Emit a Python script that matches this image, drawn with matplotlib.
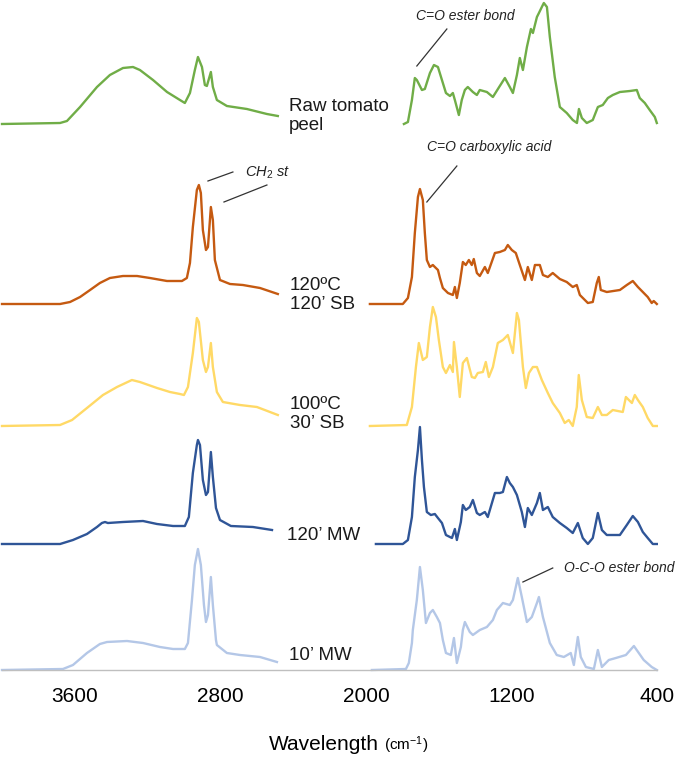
import numpy as np
import matplotlib
matplotlib.use('Agg')
import matplotlib.pyplot as plt

plt.rcParams['font.family'] = ['Liberation Sans', 'DejaVu Sans']
plt.rcParams['mathtext.fontset'] = 'custom'
plt.rcParams['mathtext.rm'] = 'Liberation Sans'
plt.rcParams['mathtext.it'] = 'Liberation Sans:italic'

# FTIR spectra (arbitrary absorbance units above each baseline)
# high range 4000-2500 cm-1, low range 2000-400 cm-1

# raw tomato peel
raw_wn_hi = [4000, 3681, 3643, 3571, 3478, 3407, 3335, 3280, 3242, 3170, 3093, 3022, 2995,
             2967, 2940, 2923, 2901, 2885, 2874, 2852, 2841, 2819, 2764, 2654, 2544, 2484]
raw_ab_hi = [0, 1, 3, 17, 37, 49, 56, 57, 54, 44, 32, 24, 21,
             31, 54, 67, 57, 39, 38, 52, 37, 24, 18, 15, 10, 8]
raw_wn_lo = [1791, 1769, 1747, 1731, 1720, 1692, 1676, 1648, 1626, 1604, 1582, 1560, 1538,
             1522, 1511, 1489, 1473, 1456, 1440, 1412, 1390, 1374, 1335, 1302, 1264, 1236,
             1209, 1192, 1170, 1154, 1137, 1115, 1093, 1082, 1060, 1049, 1033, 1022, 1005,
             989, 962, 934, 896, 863, 840, 829, 813, 786, 753, 725, 698, 670, 643, 604, 549,
             511, 495, 467, 440, 412, 401]
raw_ab_lo = [0, 2, 24, 46, 44, 34, 35, 51, 59, 57, 44, 31, 28,
             31, 24, 9, 24, 34, 37, 32, 29, 34, 32, 27, 38, 46,
             37, 31, 49, 66, 54, 77, 95, 91, 107, 111, 117, 121, 117,
             87, 47, 17, 11, 4, 1, 15, 6, 1, 4, 17, 19, 26, 29, 32, 33,
             34, 26, 21, 14, 7, 1]

# 120 ºC 120' SB
sb120_wn_hi = [4000, 3681, 3626, 3571, 3516, 3462, 3407, 3335, 3258, 3187, 3093, 3011, 2984,
               2967, 2951, 2929, 2918, 2907, 2896, 2879, 2868, 2852, 2841, 2830, 2802, 2747,
               2676, 2582, 2484]
sb120_ab_hi = [0, 0, 2, 7, 14, 21, 26, 28, 28, 26, 23, 23, 26,
               41, 77, 114, 119, 111, 74, 54, 57, 97, 84, 44, 24, 20,
               19, 16, 10]
sb120_wn_lo = [1978, 1797, 1769, 1747, 1731, 1714, 1703, 1687, 1676, 1665, 1648, 1632, 1621,
               1604, 1593, 1577, 1549, 1522, 1511, 1500, 1484, 1467, 1451, 1434, 1418, 1407,
               1390, 1374, 1346, 1330, 1291, 1264, 1236, 1220, 1198, 1176, 1154, 1126, 1110,
               1088, 1071, 1044, 1027, 1000, 973, 934, 896, 863, 841, 824, 780, 753, 731,
               720, 709, 676, 604, 566, 533, 505, 478, 451, 429, 418, 401]
sb120_ab_lo = [0, 0, 6, 27, 71, 107, 115, 104, 71, 44, 37, 39, 37,
               34, 26, 16, 11, 9, 17, 6, 21, 42, 39, 44, 39, 45,
               31, 28, 37, 31, 51, 52, 54, 59, 54, 51, 39, 24, 37,
               24, 39, 39, 29, 27, 31, 25, 22, 17, 19, 9, 1, 2, 21,
               27, 14, 12, 14, 19, 23, 17, 12, 7, 1, 3, 0]

# 100 ºC 30' SB
sb100_wn_hi = [4000, 3681, 3615, 3533, 3445, 3368, 3286, 3242, 3148, 3077, 3022, 3000, 2978,
               2951, 2929, 2918, 2896, 2879, 2868, 2852, 2841, 2819, 2786, 2692, 2599, 2484]
sb100_ab_hi = [0, 1, 6, 18, 31, 39, 46, 44, 38, 34, 32, 31, 39,
               73, 108, 104, 66, 54, 59, 83, 59, 34, 24, 21, 19, 11]
sb100_wn_lo = [1978, 1775, 1747, 1725, 1709, 1687, 1665, 1648, 1632, 1615, 1599, 1577, 1560,
               1538, 1522, 1516, 1500, 1484, 1467, 1445, 1418, 1401, 1385, 1357, 1341, 1324,
               1302, 1275, 1247, 1220, 1192, 1170, 1159, 1137, 1121, 1104, 1082, 1060, 1033,
               1000, 973, 934, 907, 885, 863, 841, 830, 813, 786, 753, 725, 703, 676, 643,
               588, 571, 538, 522, 505, 478, 451, 423, 401]
sb100_ab_lo = [0, 1, 19, 59, 83, 66, 69, 99, 119, 109, 86, 59, 53,
               61, 54, 84, 59, 29, 63, 68, 49, 48, 53, 54, 64, 49,
               59, 83, 86, 91, 73, 113, 106, 59, 38, 53, 59, 59, 46,
               33, 23, 13, 3, 6, 0, 19, 51, 26, 9, 8, 19, 11, 11, 16,
               14, 29, 23, 31, 26, 19, 8, 0, 0]

# 120' MW
mw120_wn_hi = [4000, 3681, 3610, 3533, 3478, 3451, 3434, 3418, 3335, 3225, 3148, 3060, 2995,
               2973, 2951, 2929, 2923, 2912, 2896, 2879, 2868, 2852, 2841, 2824, 2802, 2742,
               2621, 2516]
mw120_ab_hi = [0, 0, 4, 10, 17, 21, 22, 21, 22, 23, 20, 18, 18,
               27, 71, 99, 104, 99, 64, 49, 52, 92, 67, 36, 24, 18,
               17, 14]
mw120_wn_lo = [1945, 1797, 1769, 1747, 1731, 1714, 1703, 1692, 1681, 1665, 1643, 1621, 1604,
               1582, 1560, 1527, 1511, 1500, 1478, 1467, 1451, 1429, 1412, 1390, 1374, 1346,
               1330, 1291, 1264, 1247, 1225, 1209, 1192, 1170, 1143, 1126, 1110, 1088, 1060,
               1044, 1027, 1000, 973, 934, 896, 863, 835, 808, 780, 753, 725, 703, 676, 604,
               566, 533, 505, 478, 451, 423, 401]
mw120_ab_lo = [0, 0, 4, 27, 67, 94, 117, 84, 57, 32, 29, 30, 26,
               21, 9, 6, 15, 4, 22, 39, 34, 37, 44, 31, 29, 32,
               27, 51, 51, 52, 67, 61, 57, 49, 32, 17, 36, 29, 41,
               51, 34, 37, 27, 21, 16, 11, 21, 6, 0, 6, 31, 14, 9, 9,
               19, 28, 22, 12, 6, 0, 0]

# 10' MW
mw10_wn_hi = [4000, 3665, 3610, 3533, 3462, 3423, 3313, 3225, 3132, 3060, 2995, 2978, 2956,
              2940, 2923, 2907, 2890, 2879, 2868, 2852, 2841, 2824, 2819, 2764, 2692, 2582,
              2489]
mw10_ab_hi = [0, 1, 5, 17, 26, 28, 29, 27, 23, 21, 21, 27, 70,
              105, 121, 105, 65, 48, 55, 93, 65, 30, 25, 17, 15, 13,
              8]
mw10_wn_lo = [1967, 1780, 1764, 1747, 1742, 1720, 1703, 1687, 1670, 1648, 1632, 1610, 1593,
              1577, 1560, 1533, 1516, 1500, 1478, 1467, 1456, 1429, 1412, 1374, 1335, 1302,
              1280, 1247, 1209, 1192, 1165, 1143, 1115, 1088, 1060, 1049, 1027, 1005, 989,
              951, 912, 874, 857, 835, 819, 791, 747, 725, 703, 665, 626, 571, 527, 500,
              473, 429, 401]
mw10_ab_lo = [0, 1, 7, 27, 40, 70, 103, 80, 47, 57, 60, 53, 47,
              30, 17, 15, 32, 7, 23, 40, 48, 38, 35, 40, 43, 50,
              60, 67, 65, 70, 92, 73, 48, 53, 67, 73, 53, 38, 27,
              15, 13, 17, 5, 33, 13, 3, 1, 20, 3, 10, 12, 15, 24, 17,
              10, 3, 0]

names = ["Raw tomato\npeel", "120ºC\n120’ SB", "100ºC\n30’ SB", "120’ MW", "10’ MW"]
offsets = [546, 366, 244, 126, 0]
colors = ['#70AD47', '#C55A11', '#FFD966', '#2F5597', '#B4C7E7']

spectra = [(raw_wn_hi, raw_ab_hi, raw_wn_lo, raw_ab_lo),
           (sb120_wn_hi, sb120_ab_hi, sb120_wn_lo, sb120_ab_lo),
           (sb100_wn_hi, sb100_ab_hi, sb100_wn_lo, sb100_ab_lo),
           (mw120_wn_hi, mw120_ab_hi, mw120_wn_lo, mw120_ab_lo),
           (mw10_wn_hi, mw10_ab_hi, mw10_wn_lo, mw10_ab_lo)]

tick_vals = [3600, 2800, 2000, 1200, 400]

fig = plt.figure(figsize=(6.79, 7.58), dpi=100)
ax = fig.add_axes([2/679, 88/758, 655/679, 670/758])

for (whi, ahi, wlo, alo), off, col in zip(spectra, offsets, colors):
    ax.plot(whi, np.array(ahi) + off, color=col, lw=1.7, solid_joinstyle='round', clip_on=False)
    ax.plot(wlo, np.array(alo) + off, color=col, lw=1.7, solid_joinstyle='round', clip_on=False)

ax.set_xlim(4000, 400)
ax.set_ylim(0, 670)
ax.set_xticks(tick_vals)
ax.set_xticklabels([str(t) for t in tick_vals])
ax.tick_params(axis='x', length=0, pad=12, labelsize=15)
ax.set_yticks([])
for s in ['top', 'left', 'right']:
    ax.spines[s].set_visible(False)
ax.spines['bottom'].set_color('#BFBFBF')
ax.spines['bottom'].set_linewidth(1.0)

# sample labels
label_pos = [(2423, 554), (2418, 375), (2418, 256), (2434, 135), (2423, 15)]
for name, (lx, ly) in zip(names, label_pos):
    ax.text(lx, ly, name, fontsize=13.5, ha='left', va='center', linespacing=1.15, color='#1a1a1a')

# band annotations
ann_col = '#333333'
ax.plot([1720, 1555], [604, 641], color=ann_col, lw=0.9)
ax.text(1725, 654, 'C=O ester bond', fontsize=10, style='italic', ha='left', va='center', color='#222222')

ax.plot([2868, 2731], [489, 498], color=ann_col, lw=0.9)
ax.plot([2780, 2544], [468, 485], color=ann_col, lw=0.9)
ax.text(2665, 497, r'$CH_2\ st$', fontsize=10.5, ha='left', va='center', color='#222222')

ax.plot([1665, 1500], [468, 504], color=ann_col, lw=0.9)
ax.text(1665, 523, 'C=O carboxylic acid', fontsize=10, style='italic', ha='left', va='center', color='#222222')

ax.plot([1137, 973], [88, 102], color=ann_col, lw=0.9)
ax.text(912, 102, 'O-C-O ester bond', fontsize=10, style='italic', ha='left', va='center', color='#222222')

# axis title
fig.text(379/679, 1 - 745/758, 'Wavelength', fontsize=15, ha='right', va='center')
fig.text(384/679, 1 - 745/758, r'(cm$^{\mathregular{-1}}$)', fontsize=11, ha='left', va='center')

fig.savefig('out.png', dpi=100)
